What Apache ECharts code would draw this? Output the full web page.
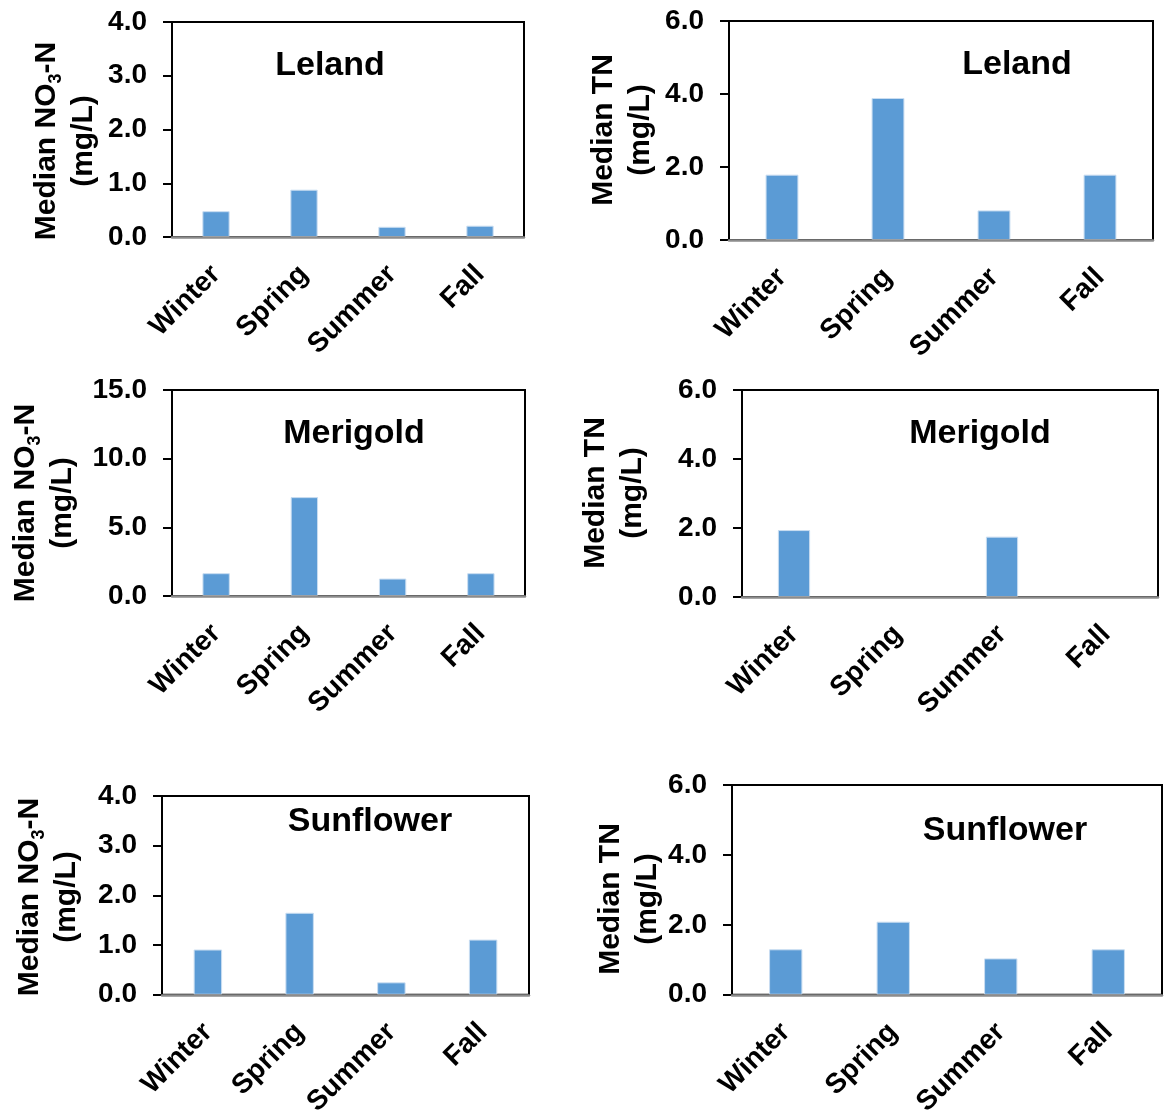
<!DOCTYPE html>
<html>
<head>
<meta charset="utf-8">
<title>Median NO3-N and TN by season</title>
<script src="https://cdn.jsdelivr.net/npm/echarts@6/dist/echarts.min.js"></script>
<style>
  html, body { margin: 0; padding: 0; background: #fff; }
  #chart { width: 1165px; height: 1119px; }
</style>
</head>
<body>
<div id="chart"></div>
<script>
// Seasons on every x axis
const seasons = ['Winter', 'Spring', 'Summer', 'Fall'];

// Median concentrations (mg/L) per site and season
const lelandNO3 = [0.48, 0.88, 0.19, 0.21];
const lelandTN = [1.79, 3.89, 0.81, 1.79];
const merigoldNO3 = [1.66, 7.2, 1.27, 1.66];
const merigoldTN = [1.94, null, 1.75, null];
const sunflowerNO3 = [0.91, 1.65, 0.25, 1.11];
const sunflowerTN = [1.30, 2.09, 1.04, 1.30];

// Panel titles and y-axis ranges
const siteNames = ['Leland', 'Leland', 'Merigold', 'Merigold', 'Sunflower', 'Sunflower'];
const yMax = [4, 6, 15, 6, 4, 6];
const yStep = [1, 2, 5, 2, 1, 2];
const measure = ['NO3', 'TN', 'NO3', 'TN', 'NO3', 'TN'];
const seriesValues = [lelandNO3, lelandTN, merigoldNO3, merigoldTN, sunflowerNO3, sunflowerTN];

// Layout of each panel: plot box, title centre, axis-name centre
const layout = [
  { left: 172, top: 22,  width: 352, height: 215, tx: 330,  ty: 66,  nx: 65,  ny: 141 },
  { left: 729, top: 21,  width: 424, height: 219, tx: 1017, ty: 65,  nx: 622, ny: 130 },
  { left: 172, top: 390, width: 353, height: 206, tx: 354,  ty: 434, nx: 44,  ny: 503 },
  { left: 742, top: 390, width: 416, height: 207, tx: 980,  ty: 434, nx: 614, ny: 493 },
  { left: 162, top: 796, width: 367, height: 203, tx: 370,  ty: 822, nx: 48,  ny: 897 },
  { left: 732, top: 785, width: 430, height: 211, tx: 1005, ty: 831, nx: 629, ny: 899 }
];

const FONT = '"Liberation Sans", Arial, Helvetica, sans-serif';

const grids = [], xAxes = [], yAxes = [], series = [], graphics = [];

layout.forEach((p, i) => {
  grids.push({
    left: p.left, top: p.top, width: p.width, height: p.height,
    show: true, borderColor: '#000', borderWidth: 2, backgroundColor: 'transparent'
  });

  xAxes.push({
    type: 'category', gridIndex: i, data: seasons,
    axisLine: { show: true, lineStyle: { color: '#8c8c8c', width: 2.5 } },
    axisTick: { show: false },
    axisLabel: {
      interval: 0, rotate: 45, margin: 33,
      fontFamily: FONT, fontWeight: 'bold', fontSize: 28, color: '#000'
    },
    splitLine: { show: false }, z: 5
  });

  yAxes.push({
    type: 'value', gridIndex: i, min: 0, max: yMax[i], interval: yStep[i],
    axisLine: { show: true, lineStyle: { color: '#000', width: 2 } },
    axisTick: { show: true, inside: false, length: 9, lineStyle: { color: '#000', width: 2 } },
    axisLabel: {
      margin: 25, fontFamily: FONT, fontWeight: 'bold', fontSize: 28, color: '#000',
      formatter: v => v.toFixed(1)
    },
    splitLine: { show: false }
  });

  series.push({
    type: 'bar', xAxisIndex: i, yAxisIndex: i, data: seriesValues[i],
    barWidth: '31%',
    itemStyle: { color: '#5b9bd5', borderColor: '#c9ddf1', borderWidth: 1 },
    silent: true
  });

  // Site name inside the plot
  graphics.push({
    type: 'text', x: p.tx, y: p.ty, z: 10,
    style: {
      text: siteNames[i], fill: '#000',
      font: 'bold 34px ' + FONT,
      align: 'center', verticalAlign: 'middle',
      textAlign: 'center', textVerticalAlign: 'middle'
    }
  });

  // Rotated y-axis name, two lines, with subscript for nitrate
  const label = measure[i] === 'NO3'
    ? '{a|Median NO}{s|3}{a|-N}\n{a|(mg/L)}'
    : '{a|Median TN}\n{a|(mg/L)}';
  graphics.push({
    type: 'text', x: p.nx, y: p.ny, rotation: Math.PI / 2, z: 10,
    style: {
      text: label, fill: '#000',
      font: 'bold 30px ' + FONT,
      align: 'center', verticalAlign: 'middle',
      textAlign: 'center', textVerticalAlign: 'middle',
      rich: {
        a: { fontFamily: FONT, fontWeight: 'bold', fontSize: 30, lineHeight: 37, fill: '#000', color: '#000' },
        s: { fontFamily: FONT, fontWeight: 'bold', fontSize: 18, lineHeight: 37, verticalAlign: 'bottom', fill: '#000', color: '#000' }
      }
    }
  });
});

const chart = echarts.init(document.getElementById('chart'), null, { renderer: 'canvas' });
chart.setOption({
  animation: false,
  backgroundColor: '#fff',
  grid: grids,
  xAxis: xAxes,
  yAxis: yAxes,
  series: series,
  graphic: graphics
});
</script>
</body>
</html>
